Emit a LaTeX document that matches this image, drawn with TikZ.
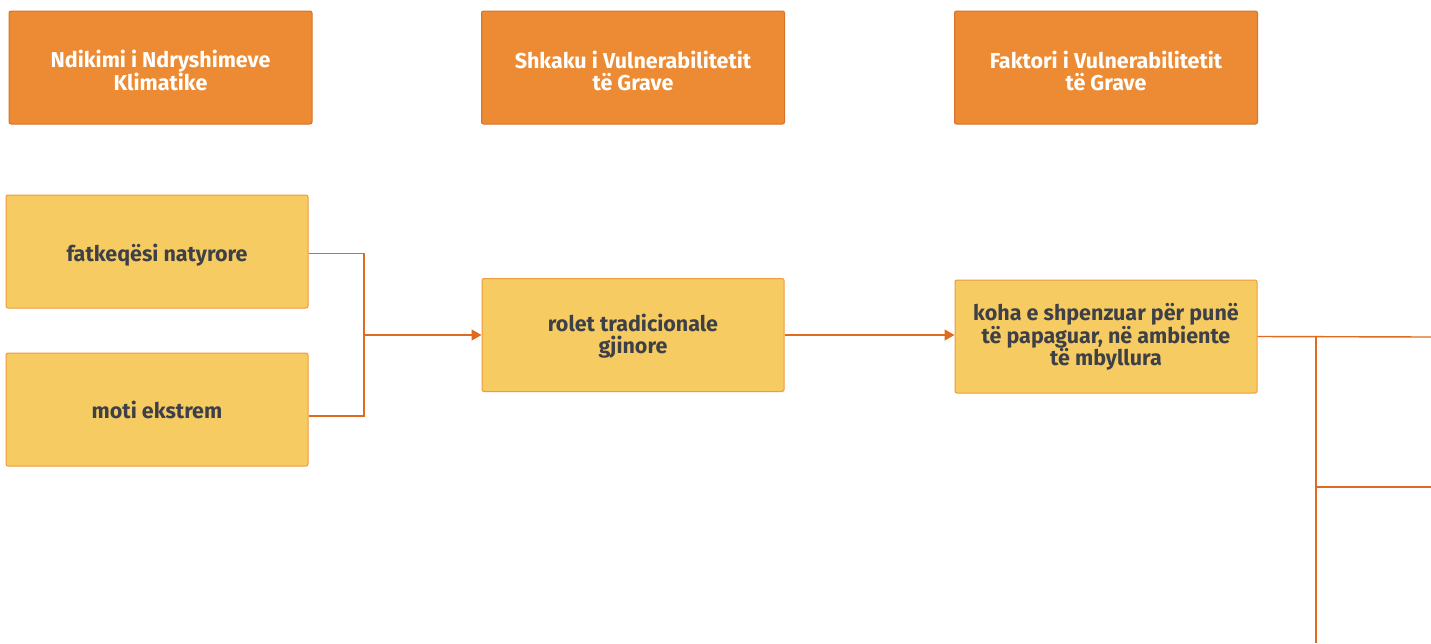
\documentclass[tikz,border=0pt]{standalone}
\usepackage{fontspec}
\setmainfont{Fira Sans}
\usetikzlibrary{arrows.meta}
\definecolor{headorange}{HTML}{EC8B33}
\definecolor{headedge}{HTML}{D9722A}
\definecolor{boxyellow}{HTML}{F6CB62}
\definecolor{boxedge}{HTML}{EF9A3E}
\definecolor{linkorange}{HTML}{E06A1E}
\definecolor{textgrey}{HTML}{3E4047}
\tikzset{
	header/.style={draw=headedge, fill=headorange, rounded corners=2pt, line width=1pt,
		minimum width=303pt, minimum height=113pt, inner sep=0pt, align=center,
		text=white, font=\bfseries\fontsize{21.5}{22}\selectfont, droptext=46pt},
	item/.style={draw=boxedge, fill=boxyellow, rounded corners=2pt, line width=1pt,
		minimum width=302pt, minimum height=113pt, inner sep=0pt, align=center,
		text=textgrey, font=\bfseries\fontsize{21.5}{22}\selectfont},
	droptext/.style={execute at begin node={\rule{0pt}{#1}}},
	link/.style={draw=linkorange, line width=1.4pt},
	linkarrow/.style={link, -{Triangle[length=10pt, width=11pt]}}
}

\begin{document}
\begin{tikzpicture}[x=1pt, y=-1pt]
	\useasboundingbox (0,0) rectangle (1431,643);

	% headers
	\node[header] (head1) at (160.5,67.5) {Ndikimi i Ndryshimeve\\Klimatike};
	\node[header] (head2) at (633,67.5) {Shkaku i Vulnerabilitetit\\të Grave};
	\node[header] (head3) at (1106,67.5) {Faktori i Vulnerabilitetit\\të Grave};

	% boxes
	\node[item, droptext=24pt] (fatk) at (157,251.5) {fatkeqësi natyrore};
	\node[item] (moti) at (157,409.5) {moti ekstrem};
	\node[item, droptext=41pt] (rolet) at (633,335) {rolet tradicionale\\gjinore};
	\node[item, droptext=63pt] (koha) at (1106,336.5) {koha e shpenzuar për punë\\të papaguar, në ambiente\\të mbyllura};

	\coordinate (join1) at (364,335);
	\coordinate (join2) at (1316,337);
	\coordinate (join3) at (1316,487);
	\coordinate (out1) at (1431,337);
	\coordinate (out2) at (1431,487);
	\coordinate (down) at (1316,643);

	% {fatk, moti -> rolet}
	\draw[link] ([yshift=-2pt]fatk.east) -| (join1);
	\draw[link] ([yshift=-6.5pt]moti.east) -| (join1);
	\draw[linkarrow] (join1) -- (rolet.west);

	% {rolet -> koha}
	\draw[linkarrow] (rolet.east) -- (rolet.east -| koha.west);

	% {koha -> ...}
	\draw[link] (koha.east) -- (out1);
	\draw[link] (join2) -- (down);
	\draw[link] (join3) -- (out2);
\end{tikzpicture}
\end{document}
